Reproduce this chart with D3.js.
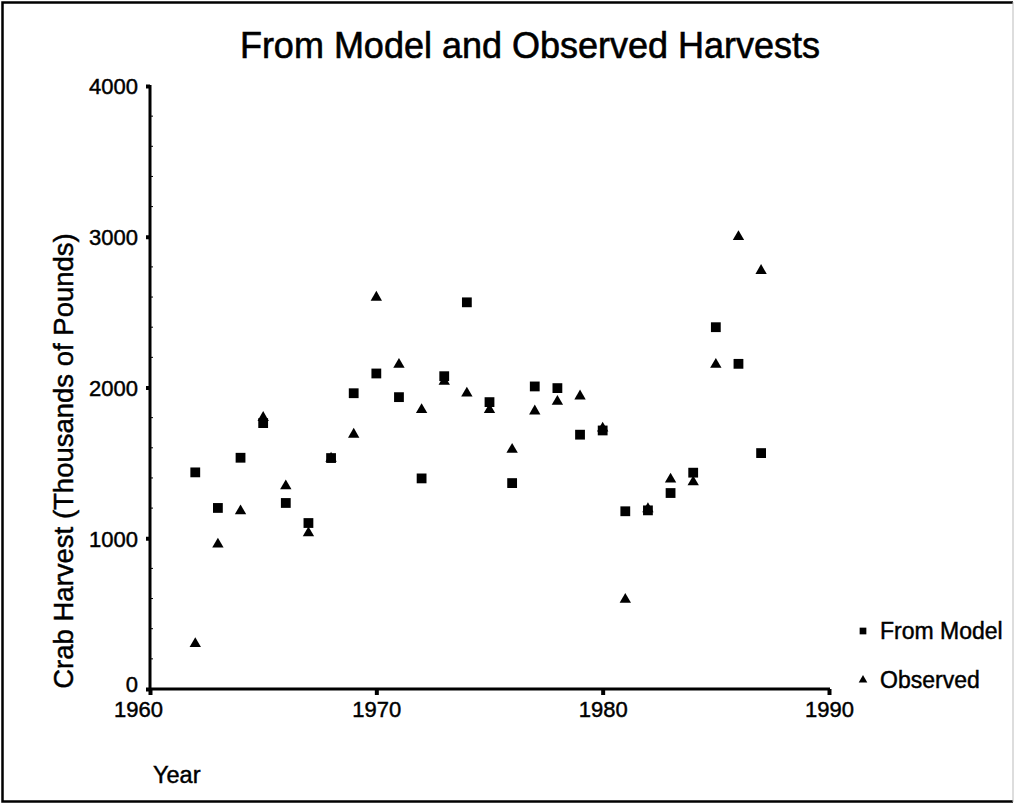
<!DOCTYPE html>
<html>
<head>
<meta charset="utf-8">
<script src="https://cdn.jsdelivr.net/npm/d3@7"></script>
<style>
  html, body { margin: 0; padding: 0; background: #fff; }
  svg { display: block; }
  text { font-family: "Liberation Sans", Arial, Helvetica, sans-serif; fill: #000; stroke: #000; stroke-width: 0.45px; }
</style>
</head>
<body>
<svg id="chart" width="1014" height="803"></svg>
<script>
// ---- data ----
const years = [1962,1963,1964,1965,1966,1967,1968,1969,1970,1971,1972,1973,1974,
               1975,1976,1977,1978,1979,1980,1981,1982,1983,1984,1985,1986,1987];
const fromModel = [1437,1201,1534,1764,1234,1101,1532,1962,2093,1936,1397,2075,2565,
                   1903,1366,2007,1996,1687,1715,1179,1185,1300,1435,2400,2157,1565];
const observed  = [300,960,1181,1800,1346,1035,1530,1689,2598,2152,1852,2040,1962,
                   1852,1589,1843,1907,1943,1730,594,1195,1391,1373,2152,3000,2775];
const xTicks = [1960,1970,1980,1990];
const yTicks = [0,1000,2000,3000,4000];
const seriesNames = ["From Model","Observed"];
const titleText = "From Model and Observed Harvests";
const xTitle = "Year";
const yTitle = "Crab Harvest (Thousands of Pounds)";

// ---- layout ----
const svg = d3.select("#chart");
const x = d3.scaleLinear().domain([1960,1990]).range([150,829]);
const y = d3.scaleLinear().domain([0,4000]).range([689,86]);

// frame
svg.append("path")
  .attr("d", `M1013,2.5 L2.5,2.5 L2.5,801.5 L1013,801.5`)
  .attr("fill","none").attr("stroke","#000").attr("stroke-width",2.5);
svg.append("line").attr("x1",1013).attr("x2",1013).attr("y1",2).attr("y2",802)
  .attr("stroke","#bbb").attr("stroke-width",1);

// title
svg.append("text").attr("x",530).attr("y",58).attr("text-anchor","middle")
  .attr("font-size",36).style("stroke-width","0.6px").text(titleText);

// y axis
const yAxis = d3.axisLeft(y).tickValues(yTicks).tickSize(4).tickPadding(8)
  .tickFormat(d3.format("d"));
const gy = svg.append("g").attr("transform","translate(150,0)").call(yAxis);
gy.select(".domain").attr("stroke","#000").attr("stroke-width",3)
  .attr("d", `M0,${y(4000)-1}V${y(0)+1}`);
gy.selectAll(".tick line").attr("stroke","#000").attr("stroke-width",4);
gy.selectAll(".tick text").attr("font-size",22).attr("dy","0.36em")
  .style("font-family","'Liberation Sans', Arial, sans-serif");
gy.selectAll(".tick text").filter(d => d === 0).attr("dy","0.12em");

// y minor ticks
const yMinor = d3.range(0,4001,200).filter(v => v % 1000 !== 0);
svg.append("g").selectAll("line").data(yMinor).join("line")
  .attr("x1",151).attr("x2",153).attr("y1",d=>y(d)).attr("y2",d=>y(d))
  .attr("stroke","#000").attr("stroke-width",1);

// x axis
const xAxis = d3.axisBottom(x).tickValues(xTicks).tickSize(6).tickPadding(6)
  .tickFormat(d3.format("d"));
const gx = svg.append("g").attr("transform","translate(0,689)").call(xAxis);
gx.select(".domain").attr("stroke","#000").attr("stroke-width",3)
  .attr("d", `M${x(1960)-1},0H${x(1990)+1}`);
gx.selectAll(".tick line").attr("stroke","#000").attr("stroke-width",4);
gx.selectAll(".tick text").attr("font-size",22)
  .style("font-family","'Liberation Sans', Arial, sans-serif");
gx.selectAll(".tick text").filter(d => d === 1960).attr("dx",-12);

// axis titles
svg.append("text").attr("transform","translate(73,461) rotate(-90)")
  .attr("text-anchor","middle").attr("font-size",27.5).text(yTitle);
svg.append("text").attr("x",153).attr("y",783).attr("font-size",23.5).text(xTitle);

// markers
const sq = d3.symbol().type(d3.symbolSquare).size(96);
const tri = d3.symbol().type(d3.symbolTriangle).size(56);

svg.append("g").selectAll("path").data(years.map((yr,i)=>({yr, v: observed[i]}))).join("path")
  .attr("d", tri).attr("transform", d => `translate(${x(d.yr)},${y(d.v)})`).attr("fill","#000");
svg.append("g").selectAll("path").data(years.map((yr,i)=>({yr, v: fromModel[i]}))).join("path")
  .attr("d", sq).attr("transform", d => `translate(${x(d.yr)},${y(d.v)})`).attr("fill","#000");

// legend
const legend = svg.append("g");
const legendItems = [{name: seriesNames[0], sym: d3.symbol().type(d3.symbolSquare).size(45), cy: 631},
                     {name: seriesNames[1], sym: d3.symbol().type(d3.symbolTriangle).size(32), cy: 680}];
legendItems.forEach(it => {
  legend.append("path").attr("d", it.sym).attr("transform",`translate(863,${it.cy})`).attr("fill","#000");
  legend.append("text").attr("x",880).attr("y",it.cy+8).attr("font-size",23).text(it.name);
});
</script>
</body>
</html>
